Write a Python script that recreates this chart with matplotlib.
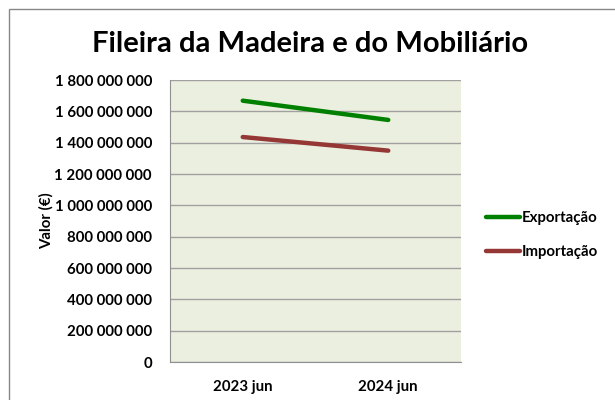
import matplotlib
matplotlib.use("Agg")
import matplotlib.pyplot as plt
from matplotlib.ticker import FuncFormatter
from matplotlib.patches import Rectangle

categories = ["2023 jun", "2024 jun"]
exportacao = [1668000000, 1545000000]
importacao = [1436000000, 1349000000]
yticks = list(range(0, 1800000001, 200000000))

plt.rcParams['font.family'] = ['Lato', 'DejaVu Sans']

fig = plt.figure(figsize=(6.15, 4.0), dpi=100)
W, H = 615, 400
ax = fig.add_axes([170/W, 1-362/H, (461-170)/W, (362-80)/H])
ax.set_facecolor('#EBEFDF')

x = list(range(len(categories)))
ax.plot(x, exportacao, color='#008000', lw=3.2, solid_capstyle='round', label='Exportação')
ax.plot(x, importacao, color='#953735', lw=3.2, solid_capstyle='round', label='Importação')

ax.set_xlim(-0.5, len(categories)-0.5)
ax.set_ylim(0, 1800000000)
ax.set_yticks(yticks)
ax.yaxis.set_major_formatter(FuncFormatter(lambda v, p: f"{int(v):,}".replace(",", " ")))
ax.set_xticks(x)
ax.set_xticklabels(categories)
ax.grid(axis='y', color='#A0A0A0', lw=1)
ax.set_axisbelow(True)
ax.tick_params(axis='both', length=0, labelsize=10.8)
ax.tick_params(axis='y', pad=13)
ax.tick_params(axis='x', pad=13)
for lab in ax.get_xticklabels() + ax.get_yticklabels():
    lab.set_fontweight('bold')
for s in ['top', 'right']:
    ax.spines[s].set_visible(False)
for s in ['left', 'bottom']:
    ax.spines[s].set_color('#909090')

ax.set_ylabel('Valor (€)', fontsize=10.8, fontweight='bold')
ax.yaxis.set_label_coords(-0.4, 0.5)

fig.text(310/W, 1-44/H, 'Fileira da Madeira e do Mobiliário', ha='center', va='center',
         fontsize=21, fontweight='bold')

leg = fig.legend(loc='center left', bbox_to_anchor=(472/W, 1-235/H), frameon=False,
                 prop={'weight': 'bold', 'size': 10.8}, handlelength=2.3, handletextpad=0.1,
                 labelspacing=1.3)

fig.patches.append(Rectangle((9/W, -0.05), 1.2, 1-9/H+0.05, transform=fig.transFigure,
                             fill=False, edgecolor='#888888', lw=1))

fig.savefig('out.png', dpi=100)
